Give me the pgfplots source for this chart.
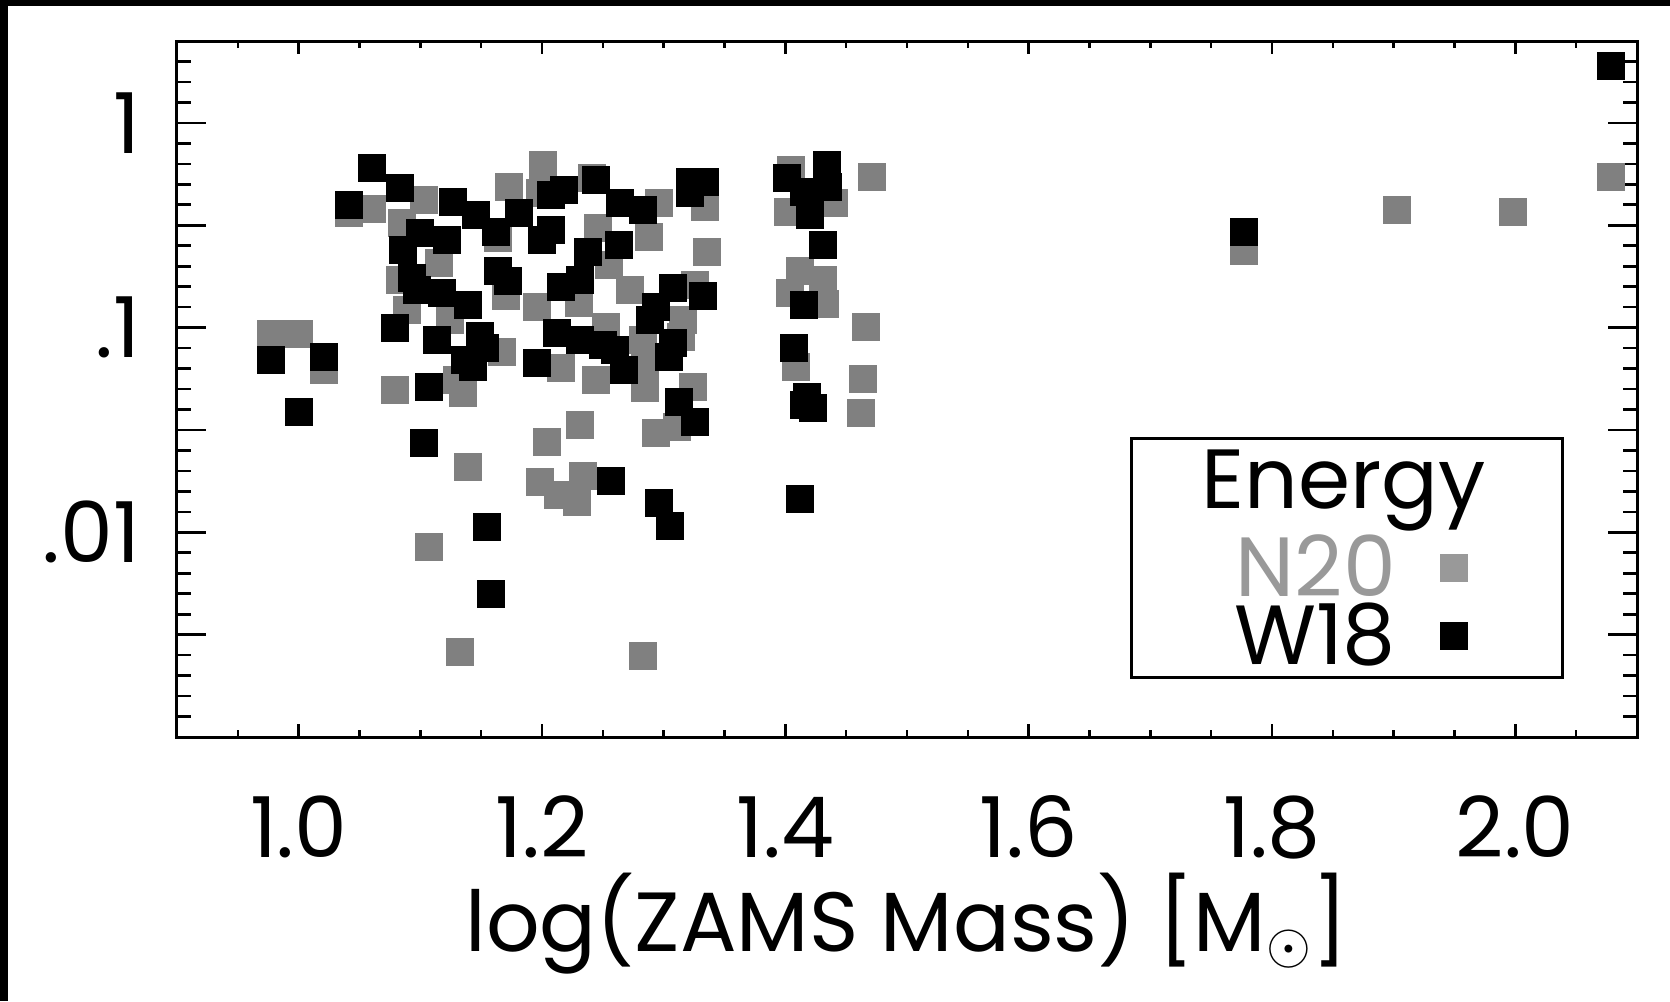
\documentclass[border=0pt]{standalone}
\usepackage{fontspec}
\setmainfont{Poppins}
\usepackage{pgfplots}
\pgfplotsset{compat=1.18}
\definecolor{ngray}{gray}{0.5}
\definecolor{nlegend}{gray}{0.6}

\begin{document}
\begin{tikzpicture}[font=\fontsize{21}{23}\selectfont]
% white page with the dark left and top edge of the original slide
\fill[white] (-44.25pt,-66pt) rectangle (373.25pt,184.25pt);
\fill[black] (-44.25pt,-66pt) rectangle (-42.25pt,184.25pt);
\fill[black] (-44.25pt,182.75pt) rectangle (373.25pt,184.25pt);
\begin{axis}[
  at={(0pt,0pt)}, anchor=south west,
  scale only axis, width=365pt, height=174pt,
  ymode=log,
  xmin=0.9, xmax=2.1, ymin=0.001, ymax=2.5119,
  axis line style={line width=0.75pt},
  xtick={1.0,1.2,1.4,1.6,1.8,2.0},
  xticklabels={1.0,1.2,1.4,1.6,1.8,2.0},
  minor xtick={0.95,1.05,1.1,1.15,1.25,1.3,1.35,1.45,1.5,1.55,1.65,1.7,1.75,1.85,1.9,1.95,2.05},
  ytick={0.001,0.0031623,0.01,0.031623,0.1,0.31623,1},
  yticklabels={,,.01,,.1,,1},
  minor ytick={0.0012589,0.0015849,0.0019953,0.0025119,0.0039811,0.0050119,0.0063096,0.0079433,
    0.012589,0.015849,0.019953,0.025119,0.039811,0.050119,0.063096,0.079433,
    0.12589,0.15849,0.19953,0.25119,0.39811,0.50119,0.63096,0.79433,1.2589,1.5849,1.9953},
  tick style={line width=0.65pt, black},
  major x tick style={/pgfplots/major tick length=3.25pt},
  minor x tick style={/pgfplots/minor tick length=1.75pt},
  major y tick style={/pgfplots/major tick length=7.25pt},
  minor y tick style={/pgfplots/minor tick length=3.5pt},
  xticklabel style={anchor=base, inner sep=0pt, yshift=-30pt},
  yticklabel style={anchor=east, inner sep=0pt, xshift=-9pt},
  xlabel={log(ZAMS Mass) [M$_\odot$]},
  xlabel style={at={(axis description cs:0.5,0)}, anchor=base, yshift=-53.5pt},
  legend style={at={(0.95,0.431)}, anchor=north east, draw=black, line width=0.75pt,
    fill=white, inner xsep=24pt, inner ysep=3.4pt, row sep=3pt, column sep=6pt,
    nodes={inner sep=0pt, text height=14pt, text depth=0pt}},
  legend plot pos=right,
  legend cell align=right,
]
% N20
\addplot[only marks, mark=square*, mark size=3.3pt, color=ngray, forget plot] coordinates {
(1.201,0.623) (1.173,0.488) (1.103,0.420) (1.085,0.323) (1.041,0.363) (1.060,0.380)
(1.198,0.453) (1.164,0.273) (1.115,0.206) (1.083,0.171) (1.170,0.142) (1.196,0.1265)
(1.089,0.122) (1.124,0.109) (1.167,0.0763) (0.977,0.0931) (1.000,0.0931) (1.021,0.0621)
(1.079,0.0497) (1.135,0.0478) (1.130,0.0555) (1.216,0.0633) (1.139,0.0208) (1.107,0.0085)
(1.133,0.00261) (1.198,0.0176) (1.213,0.0152) (1.234,0.01884) (1.229,0.01406) (1.204,0.0275)
(1.231,0.0334) (1.283,0.00249) (1.294,0.0307) (1.311,0.0328) (1.462,0.0383) (1.241,0.536)
(1.296,0.405) (1.334,0.390) (1.336,0.235) (1.246,0.306) (1.288,0.278) (1.255,0.202)
(1.272,0.153) (1.326,0.1615) (1.253,0.101) (1.230,0.1314) (1.316,0.109) (1.314,0.0903)
(1.283,0.0870) (1.244,0.0555) (1.285,0.0644) (1.285,0.0505) (1.324,0.0514) (1.471,0.546)
(1.405,0.589) (1.440,0.405) (1.402,0.368) (1.412,0.188) (1.431,0.171) (1.404,0.147)
(1.433,0.131) (1.466,0.101) (1.409,0.0644) (1.464,0.0559)
(1.777,0.237) (1.903,0.376) (1.998,0.367) (2.079,0.544)
};
% W18
\addplot[only marks, mark=square*, mark size=3.3pt, color=black, forget plot] coordinates {
(1.060,0.600) (1.083,0.479) (1.041,0.397) (1.127,0.409) (1.146,0.355) (1.162,0.294)
(1.181,0.364) (1.200,0.268) (1.100,0.289) (1.086,0.239) (1.122,0.268) (1.093,0.174)
(1.097,0.153) (1.118,0.147) (1.139,0.129) (1.164,0.188) (1.172,0.168) (1.216,0.158)
(1.079,0.0992) (1.114,0.0870) (1.149,0.0910) (1.153,0.0792) (1.137,0.0695) (1.143,0.0644)
(1.196,0.0674) (1.212,0.0938) (0.977,0.0695) (1.021,0.0721) (1.107,0.0514) (1.000,0.0388)
(1.103,0.0274) (1.155,0.01065) (1.158,0.00498) (1.257,0.0178) (1.296,0.01386) (1.305,0.01074)
(1.313,0.0433) (1.326,0.0347) (1.415,0.0419) (1.423,0.0403) (1.412,0.01455) (1.322,0.516)
(1.334,0.516) (1.322,0.453) (1.244,0.526) (1.218,0.470) (1.264,0.405) (1.283,0.376)
(1.263,0.253) (1.238,0.235) (1.231,0.171) (1.308,0.156) (1.332,0.142) (1.289,0.109)
(1.308,0.0838) (1.304,0.0721) (1.250,0.0822) (1.267,0.0621) (1.231,0.0870) (1.434,0.623)
(1.401,0.536) (1.435,0.488) (1.415,0.461) (1.420,0.355) (1.431,0.253) (1.415,0.129)
(1.407,0.0792) (1.418,0.0460) (1.207,0.444) (1.207,0.300) (1.294,0.1265) (1.260,0.0777)
(1.777,0.293) (2.079,1.897)
};
\addlegendimage{empty legend}
\addlegendentry[text depth=5pt]{\makebox[0pt][r]{Energy\hspace{-23pt}}}
\addlegendimage{only marks, mark=square*, mark size=3.1pt, color=nlegend}
\addlegendentry[text=nlegend]{\makebox[42pt][r]{N20}}
\addlegendimage{only marks, mark=square*, mark size=3.1pt, color=black}
\addlegendentry{\makebox[42pt][r]{W18}}
\end{axis}
\pgfresetboundingbox
\useasboundingbox (-44.25pt,-66pt) rectangle (373.25pt,184.25pt);
\end{tikzpicture}
\end{document}
